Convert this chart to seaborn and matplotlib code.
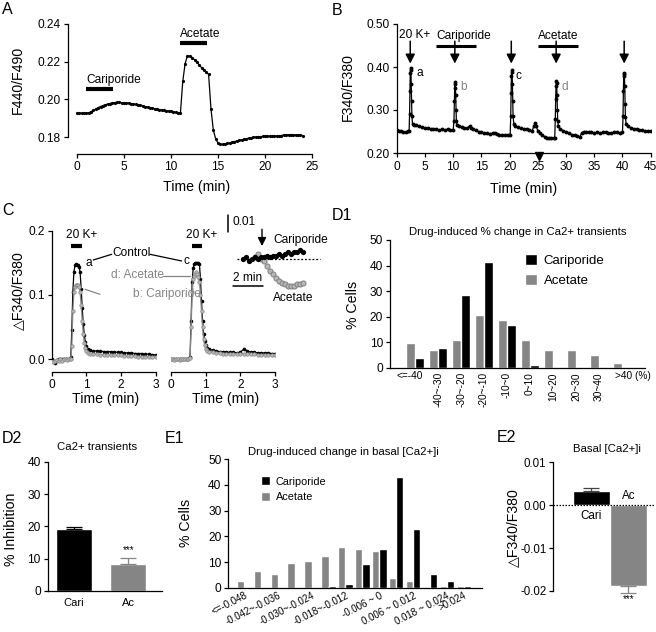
import numpy as np
import pandas as pd
import matplotlib
matplotlib.use('Agg')
import matplotlib.pyplot as plt
import seaborn as sns
from matplotlib.patches import Patch
from matplotlib.lines import Line2D
import matplotlib.transforms as mtrans

# ---------------- data ----------------
# Panel A: F440/F490 trace (sampled every 0.25 min)
A_time = np.arange(0, 24.01, 0.25)
A_ratio = [0.1928, 0.1927, 0.1926, 0.1926, 0.1927, 0.1929, 0.1935, 0.1942, 0.1949, 0.1956, 0.1962,
           0.1967, 0.1971, 0.1975, 0.1978, 0.1981, 0.1983, 0.1984, 0.1984, 0.1983, 0.1982,
           0.1981, 0.1979, 0.1977, 0.1975, 0.1973, 0.1970, 0.1968, 0.1965, 0.1962, 0.1959, 0.1956, 0.1953,
           0.1951, 0.1948, 0.1946, 0.1944, 0.1942, 0.1940, 0.1938, 0.1936, 0.1934, 0.1932, 0.1930, 0.1927,
           0.2095, 0.2190, 0.2232, 0.2230, 0.2222, 0.2210, 0.2197, 0.2183, 0.2168, 0.2155, 0.2143, 0.2132,
           0.1950, 0.1838, 0.1790, 0.1768, 0.1762, 0.1761, 0.1763, 0.1766, 0.1769, 0.1773, 0.1776, 0.1779,
           0.1782, 0.1785, 0.1788, 0.1791, 0.1794, 0.1796, 0.1798, 0.1800, 0.1801, 0.1802, 0.1803, 0.1804,
           0.1804, 0.1805, 0.1805, 0.1806, 0.1806, 0.1806, 0.1808, 0.1812, 0.1813, 0.1812, 0.1812, 0.1812,
           0.1811, 0.1811, 0.1810, 0.1808]
A_ticks_x = [0, 5, 10, 15, 20, 25]
A_ticks_y = [0.18, 0.20, 0.22, 0.24]

# Panel B: F340/F380 trace
B_time = [0, 0.4, 0.8, 1.2, 1.6, 2.0, 2.2,
          2.28, 2.34, 2.40, 2.46, 2.52, 2.58, 2.64, 2.70, 2.80,
          3.0, 3.5, 4.0, 4.5, 5.0, 5.5, 6.0, 6.5, 7.0, 7.5, 8.0, 8.5, 9.0, 9.5, 10.0,
          10.15, 10.21, 10.27, 10.33, 10.39, 10.45, 10.51, 10.57, 10.7,
          11.0, 11.5, 12.0, 12.5, 12.9, 13.2, 13.6, 14.0, 14.5, 15.0, 15.5, 16.0, 16.5, 17.0, 17.4, 17.8,
          18.2, 18.7, 19.2, 19.7, 20.1,
          20.2, 20.26, 20.32, 20.38, 20.44, 20.50, 20.56, 20.62, 20.75,
          21.0, 21.5, 22.0, 22.5, 23.0, 23.5, 24.0, 24.3, 24.5, 24.7, 25.0, 25.4, 25.8, 26.2, 26.6, 27.0,
          27.4, 27.8, 28.0,
          28.1, 28.16, 28.22, 28.28, 28.34, 28.40, 28.46, 28.52, 28.65,
          29.0, 29.5, 30.0, 30.5, 31.0, 31.5, 32.0, 32.4, 32.8, 33.2, 33.6, 34.0, 34.5, 35.0, 35.5, 36.0,
          36.5, 37.0, 37.5, 38.0, 38.5, 39.0, 39.5, 40.0,
          40.1, 40.16, 40.22, 40.28, 40.34, 40.40, 40.46, 40.52, 40.65,
          41.0, 41.5, 42.0, 42.5, 43.0, 43.5, 44.0, 44.5, 45.0]
B_ratio = [0.253, 0.252, 0.252, 0.249, 0.248, 0.251, 0.252,
           0.290, 0.345, 0.385, 0.398, 0.392, 0.360, 0.320, 0.285, 0.268,
           0.266, 0.264, 0.262, 0.260, 0.258, 0.257, 0.256, 0.255, 0.255, 0.254, 0.255, 0.254, 0.255, 0.254, 0.253,
           0.275, 0.320, 0.352, 0.366, 0.360, 0.335, 0.300, 0.275, 0.265,
           0.262, 0.260, 0.259, 0.257, 0.263, 0.258, 0.256, 0.253, 0.250, 0.248, 0.247, 0.246, 0.245, 0.246,
           0.247, 0.244, 0.243, 0.242, 0.242, 0.241, 0.242,
           0.285, 0.340, 0.380, 0.392, 0.388, 0.360, 0.320, 0.285, 0.268,
           0.263, 0.260, 0.258, 0.256, 0.255, 0.253, 0.252, 0.262, 0.270, 0.262, 0.252, 0.246, 0.241, 0.238,
           0.236, 0.235, 0.234, 0.234, 0.236,
           0.280, 0.325, 0.355, 0.368, 0.362, 0.335, 0.300, 0.275, 0.262,
           0.256, 0.252, 0.249, 0.246, 0.243, 0.241, 0.239, 0.237, 0.247, 0.250, 0.249, 0.248, 0.248, 0.247,
           0.248, 0.247, 0.248, 0.248, 0.247, 0.247, 0.248, 0.248, 0.247, 0.248,
           0.285, 0.345, 0.378, 0.387, 0.383, 0.355, 0.315, 0.283, 0.268,
           0.262, 0.258, 0.256, 0.255, 0.254, 0.253, 0.252, 0.252, 0.251]
B_peak_times = [2.4, 10.3, 20.3, 28.25, 40.3]
B_ticks_x = [0, 5, 10, 15, 20, 25, 30, 35, 40, 45]
B_ticks_y = [0.20, 0.30, 0.40, 0.50]

# Panel C: normalised transients
C_time = [0.0, 0.05, 0.1, 0.15, 0.2, 0.25, 0.3, 0.35, 0.4, 0.45, 0.5, 0.55,
          0.58, 0.61, 0.64, 0.67, 0.70, 0.73, 0.76, 0.79, 0.82, 0.85, 0.88, 0.91, 0.94, 0.97, 1.0,
          1.05, 1.1, 1.2, 1.3, 1.4, 1.5, 1.6, 1.7, 1.8, 1.9, 2.0, 2.1, 2.2, 2.3, 2.4, 2.5, 2.6, 2.7, 2.8, 2.9, 3.0]
C_control_a = [0.000, -0.002, -0.005, -0.001, 0.001, 0.000, 0.001, 0.000, 0.001, 0.000, 0.001, 0.003,
               0.045, 0.105, 0.135, 0.146, 0.148, 0.147, 0.146, 0.144, 0.135, 0.110, 0.080, 0.055, 0.038, 0.027, 0.020,
               0.016, 0.014, 0.013, 0.013, 0.013, 0.012, 0.012, 0.012, 0.011, 0.011, 0.011, 0.010, 0.010, 0.010,
               0.009, 0.009, 0.009, 0.008, 0.008, 0.007, 0.007]
C_cariporide_b = [-0.002, -0.004, -0.003, -0.001, -0.003, 0.000, -0.002, 0.000, 0.000, -0.001, 0.000, 0.001,
                  0.020, 0.075, 0.105, 0.112, 0.115, 0.116, 0.115, 0.113, 0.105, 0.085, 0.060, 0.040, 0.025, 0.018, 0.013,
                  0.010, 0.009, 0.008, 0.008, 0.007, 0.007, 0.007, 0.006, 0.006, 0.006, 0.006, 0.005, 0.005, 0.005,
                  0.005, 0.004, 0.004, 0.004, 0.004, 0.004, 0.004]
C_control_c = [0.001, 0.000, 0.000, 0.001, 0.000, 0.000, 0.000, 0.001, 0.000, 0.000, 0.001, 0.004,
               0.060, 0.120, 0.142, 0.148, 0.150, 0.150, 0.149, 0.149, 0.148, 0.125, 0.090, 0.060, 0.040, 0.028, 0.022,
               0.018, 0.016, 0.014, 0.013, 0.012, 0.012, 0.011, 0.011, 0.011, 0.010, 0.011, 0.016, 0.013, 0.011,
               0.011, 0.010, 0.010, 0.010, 0.010, 0.009, 0.009]
C_acetate_d = [0.000, 0.000, -0.001, 0.000, 0.000, -0.001, 0.000, 0.000, 0.000, 0.000, 0.000, 0.002,
               0.050, 0.105, 0.125, 0.130, 0.133, 0.135, 0.133, 0.128, 0.120, 0.100, 0.075, 0.050, 0.032, 0.022, 0.016,
               0.013, 0.012, 0.011, 0.010, 0.010, 0.009, 0.009, 0.009, 0.009, 0.008, 0.008, 0.009, 0.008, 0.008,
               0.008, 0.007, 0.007, 0.007, 0.007, 0.007, 0.007]
C_ticks_x = [0, 1, 2, 3]
C_ticks_y = [0.0, 0.1, 0.2]

# Panel C inset: basal changes
inset_cari_time = np.arange(0, 4.01, 0.2)
inset_cari = [0.000, 0.001, -0.001, 0.000, 0.001, 0.000, 0.001, 0.001, 0.002, 0.001, 0.002,
              0.002, 0.003, 0.002, 0.003, 0.004, 0.003, 0.004, 0.004, 0.005, 0.004]
inset_acet_time = np.arange(0.8, 4.01, 0.2)
inset_acet = [0.001, 0.003, 0.000, -0.001, -0.004, -0.007, -0.009, -0.011, -0.013, -0.014,
              -0.015, -0.016, -0.016, -0.016, -0.015, -0.015, -0.014]

# Panel D1: histogram of % change in Ca2+ transients
D1_bins = ["<=-40", "-40~-30", "-30~-20", "-20~-10", "-10~0", "0~10", "10~20", "20~30", "30~40", ">40 (%)"]
D1_cariporide = [3.8, 7.8, 28.7, 41.5, 16.9, 1.3, 0, 0, 0, 0]
D1_acetate = [9.8, 7.2, 11.0, 20.8, 18.8, 11.0, 7.1, 7.1, 5.2, 1.9]

# Panel D2: % inhibition
D2_groups = ["Cari", "Ac"]
D2_mean = [19.2, 8.3]
D2_sem = [0.7, 1.9]

# Panel E1: histogram of change in basal [Ca2+]i
E1_bins = ["<=-0.048", "-0.048~-0.042", "-0.042~-0.036", "-0.036~-0.030", "-0.030~-0.024",
           "-0.024~-0.018", "-0.018~-0.012", "-0.012~-0.006", "-0.006 ~ 0", "0 ~ 0.006",
           "0.006 ~ 0.012", "0.012 ~ 0.018", "0.018 ~ 0.024", ">0.024"]
E1_shown = [0, 2, 4, 6, 8, 10, 12, 13]
E1_cariporide = [0, 0, 0, 0, 0, 0.6, 1.3, 9.1, 15.1, 43.0, 22.9, 5.2, 2.6, 0.5]
E1_acetate = [2.6, 6.5, 5.2, 9.7, 10.4, 12.3, 15.7, 14.9, 14.4, 3.9, 2.6, 0, 0.5, 0.5]

# Panel E2: basal change
E2_groups = ["Cari", "Ac"]
E2_mean = [0.0033, -0.0189]
E2_sem = [0.0007, 0.0015]
E2_ticks_y = [-0.02, -0.01, 0.00, 0.01]

BLACK = '#000000'
GRAY = '#858585'
LIGHT = '#b8b8b8'

# ---------------- style ----------------
sns.set_style('ticks')
plt.rcParams['font.family'] = ['Liberation Sans', 'DejaVu Sans']
plt.rcParams.update({
    'axes.linewidth': 0.9, 'xtick.major.width': 0.9, 'ytick.major.width': 0.9,
    'xtick.major.size': 3, 'ytick.major.size': 3,
    'xtick.labelsize': 8.6, 'ytick.labelsize': 8.6, 'axes.labelsize': 10.2,
    'xtick.major.pad': 2, 'ytick.major.pad': 2,
    'xtick.color': 'black', 'ytick.color': 'black', 'axes.edgecolor': 'black',
    'text.color': 'black', 'axes.labelcolor': 'black',
})

W, H = 656, 632
fig = plt.figure(figsize=(W / 100, H / 100), dpi=100)


def px_axes(l, t, r, b):
    return fig.add_axes([l / W, 1 - b / H, (r - l) / W, (b - t) / H])


def to_ax(ax, x, y):
    p = ax.get_position()
    return ((x / W - p.x0) / p.width, ((1 - y / H) - p.y0) / p.height)


def ylab(ax, text, x, y):
    ax.set_ylabel(text)
    ax.yaxis.set_label_coords(*to_ax(ax, x, y))


def xlab(ax, text, x, y):
    ax.set_xlabel(text)
    ax.xaxis.set_label_coords(*to_ax(ax, x, y))


def ftext(x, y, s, **kw):
    fig.text(x / W, 1 - y / H, s, **kw)


def fline(x1, y1, x2, y2, color='black', lw=0.9):
    fig.add_artist(Line2D([x1 / W, x2 / W], [1 - y1 / H, 1 - y2 / H], transform=fig.transFigure,
                          color=color, lw=lw))


def clean(ax):
    sns.despine(ax=ax)


# ---------------- Panel A ----------------
axA = px_axes(68, 24, 312, 154)
sns.lineplot(x=A_time, y=A_ratio, ax=axA, color=BLACK, marker='o', markersize=2.3,
             markeredgecolor=BLACK, markeredgewidth=0, linewidth=0.9, estimator=None)
axA.set_xlim(-0.96, 25)
axA.set_ylim(0.171, 0.24)
clean(axA)
axA.spines['left'].set_bounds(0.18, 0.24)
axA.spines['bottom'].set_bounds(0, 25)
axA.set_xticks(A_ticks_x)
axA.set_yticks(A_ticks_y)
axA.set_yticklabels([f"{v:.2f}" for v in A_ticks_y])
xlab(axA, "Time (min)", 196.7, 180)
ylab(axA, "F440/F490", 25, 80)
axA.plot([1.0, 3.8], [0.2055, 0.2055], color=BLACK, lw=3, solid_capstyle='butt')
axA.text(0.95, 0.2072, "Cariporide", fontsize=8.6, ha='left', va='bottom')
axA.plot([11.0, 13.8], [0.2297, 0.2297], color=BLACK, lw=3, solid_capstyle='butt')
axA.text(11.0, 0.2314, "Acetate", fontsize=8.6, ha='left', va='bottom')

# ---------------- Panel B ----------------
axB = px_axes(396.7, 24, 650.7, 153)
sns.lineplot(x=B_time, y=B_ratio, ax=axB, color=BLACK, marker='o', markersize=2.8,
             markeredgecolor=BLACK, markeredgewidth=0, linewidth=0.9, estimator=None)
axB.set_xlim(0, 45)
axB.set_ylim(0.2, 0.5)
clean(axB)
axB.set_xticks(B_ticks_x)
axB.set_yticks(B_ticks_y)
axB.set_yticklabels([f"{v:.2f}" for v in B_ticks_y])
axB.tick_params(axis='x', pad=3)
xlab(axB, "Time (min)", 523.3, 181.7)
ylab(axB, "F340/F380", 355, 86.7)
for tp in B_peak_times:
    axB.annotate('', xy=(tp, 0.408), xytext=(tp, 0.460),
                 arrowprops=dict(arrowstyle='-|>,head_length=0.55,head_width=0.28', color=BLACK, lw=1.1,
                                 shrinkA=0, shrinkB=0))
axB.text(3.2, 0.474, "20 K+", fontsize=8.6, ha='center', va='center')
axB.text(3.5, 0.386, "a", fontsize=8.6, ha='left', va='center', color=BLACK)
axB.text(11.2, 0.353, "b", fontsize=8.6, ha='left', va='center', color=GRAY)
axB.text(21.1, 0.379, "c", fontsize=8.6, ha='left', va='center', color=BLACK)
axB.text(29.2, 0.353, "d", fontsize=8.6, ha='left', va='center', color=GRAY)
axB.plot([7.05, 14.1], [0.4495, 0.4495], color=BLACK, lw=2.2, solid_capstyle='butt')
axB.text(7.05, 0.458, "Cariporide", fontsize=8.6, ha='left', va='bottom')
axB.plot([25.0, 32.2], [0.4495, 0.4495], color=BLACK, lw=2.2, solid_capstyle='butt')
axB.text(25.0, 0.458, "Acetate", fontsize=8.6, ha='left', va='bottom')
axB.plot([25.2], [0.1935], marker='v', color=BLACK, markersize=6, clip_on=False, zorder=6)

# ---------------- Panel C ----------------
axC1 = px_axes(51.7, 230.7, 155.7, 371.7)
axC2 = px_axes(171, 230.7, 275, 371.7)
for ax, ctrl, drug in [(axC1, C_control_a, C_cariporide_b), (axC2, C_control_c, C_acetate_d)]:
    sns.lineplot(x=C_time, y=ctrl, ax=ax, color=BLACK, marker='o', markersize=2.6,
                 markeredgecolor=BLACK, markeredgewidth=0, linewidth=0.9, estimator=None)
    sns.lineplot(x=C_time, y=drug, ax=ax, color=GRAY, marker='o', markersize=2.5,
                 markerfacecolor=LIGHT, markeredgecolor=GRAY, markeredgewidth=0.5, linewidth=0.9,
                 estimator=None)
    ax.set_xlim(0, 3)
    ax.set_ylim(-0.0193, 0.2)
    clean(ax)
    ax.spines['bottom'].set_bounds(0, 3)
    ax.set_xticks(C_ticks_x)
axC1.spines['left'].set_bounds(0, 0.2)
axC1.set_yticks(C_ticks_y)
axC1.set_yticklabels([f"{v:.1f}" for v in C_ticks_y])
axC2.spines['left'].set_visible(False)
axC2.set_yticks([])
axC2.set_ylabel('')
xlab(axC1, "Time (min)", 105.8, 392)
xlab(axC2, "Time (min)", 225.8, 392)
ylab(axC1, "△F340/F380", 25, 291)
axC1.plot([0.556, 0.864], [0.176, 0.176], color=BLACK, lw=3, solid_capstyle='butt')
axC1.text(0.865, 0.193, "20 K+", fontsize=8.6, ha='center', va='center')
axC2.plot([0.6, 0.88], [0.176, 0.176], color=BLACK, lw=3, solid_capstyle='butt')
axC2.text(0.88, 0.193, "20 K+", fontsize=8.6, ha='center', va='center')

ftext(89.3, 263.3, "a", fontsize=8.6, ha='center', va='center')
fline(93.3, 260, 111.7, 254.3)
ftext(131.7, 253.3, "Control", fontsize=8.6, ha='center', va='center')
fline(150, 254.3, 181.7, 261)
ftext(186.7, 261, "c", fontsize=8.6, ha='center', va='center')
ftext(137.8, 275, "d: Acetate", fontsize=8.6, ha='center', va='center', color=GRAY)
fline(163.3, 275.7, 190, 275.7, color=GRAY)
ftext(166.7, 294.3, "b: Cariporide", fontsize=8.6, ha='center', va='center', color=GRAY)
fline(85, 289.3, 100, 294.3, color=GRAY)

# inset
axI = px_axes(224, 208, 326, 305)
sns.lineplot(x=inset_acet_time, y=inset_acet, ax=axI, color=GRAY, marker='o', markersize=3.6,
             markerfacecolor=LIGHT, markeredgecolor=GRAY, markeredgewidth=0.8, linewidth=0,
             estimator=None)
sns.lineplot(x=inset_cari_time, y=inset_cari, ax=axI, color=BLACK, marker='o', markersize=3.8,
             markeredgecolor=BLACK, markeredgewidth=0, linewidth=1.5, estimator=None)
axI.set_xlim(-1.267, 5.533)
axI.set_ylim(-0.02706, 0.03)
axI.axis('off')
axI.axhline(0, xmin=0.127, xmax=0.941, color=BLACK, lw=0.9, ls=(0, (1.5, 1.5)), zorder=0)
axI.plot([-1.0, -1.0], [0.0159, 0.0259], color=BLACK, lw=1.1)
axI.text(-0.73, 0.0218, "0.01", fontsize=8.6, ha='left', va='center')
axI.plot([-0.667, 1.333], [-0.0159, -0.0159], color=BLACK, lw=1.1)
axI.text(0.333, -0.0112, "2 min", fontsize=8.6, ha='center', va='center')
axI.annotate('', xy=(1.267, 0.0076), xytext=(1.267, 0.0175),
             arrowprops=dict(arrowstyle='-|>,head_length=0.5,head_width=0.25', color=BLACK, lw=1.0,
                             shrinkA=0, shrinkB=0))
axI.text(2.0, 0.0109, "Cariporide", fontsize=8.6, ha='left', va='center')
axI.text(2.0, -0.0229, "Acetate", fontsize=8.6, ha='left', va='center')

# ---------------- Panel D1 ----------------
axD1 = px_axes(390, 240, 645, 368)
dfD1 = pd.DataFrame({
    'bin': D1_bins * 2,
    'drug': ['Acetate'] * len(D1_bins) + ['Cariporide'] * len(D1_bins),
    'pct': D1_acetate + D1_cariporide,
})
sns.barplot(data=dfD1, x='bin', y='pct', hue='drug', order=D1_bins, hue_order=['Acetate', 'Cariporide'],
            palette={'Acetate': GRAY, 'Cariporide': BLACK}, width=0.78, errorbar=None, legend=False,
            ax=axD1, saturation=1)
axD1.set_xlim(-1.09, 10.0)
axD1.set_ylim(0, 50)
clean(axD1)
axD1.set_yticks([0, 10, 20, 30, 40, 50])
axD1.set_xlabel('')
ylab(axD1, "% Cells", 360, 305)
axD1.tick_params(axis='x', length=0, pad=3)
axD1.set_xticks(range(len(D1_bins)))
middle = [b if 0 < i < len(D1_bins) - 1 else '' for i, b in enumerate(D1_bins)]
axD1.set_xticklabels(middle, fontsize=7.3, rotation=90)
edge_tr = mtrans.blended_transform_factory(axD1.transData, axD1.transAxes)
axD1.text(-0.22, -0.02, D1_bins[0], transform=edge_tr, fontsize=7.3, ha='center', va='top')
axD1.text(9.48, -0.02, D1_bins[-1], transform=edge_tr, fontsize=7.3, ha='center', va='top')
axD1.text(0.502, 1.0625, "Drug-induced % change in Ca2+ transients", transform=axD1.transAxes,
          fontsize=8.2, ha='center', va='center')
axD1.legend(handles=[Patch(facecolor=BLACK, label='Cariporide'), Patch(facecolor=GRAY, label='Acetate')],
            loc='upper left', bbox_to_anchor=(0.51, 0.93), frameon=False, fontsize=9.5,
            handlelength=0.9, handleheight=0.9, handletextpad=0.5, labelspacing=0.5, borderaxespad=0)

# ---------------- Panel D2 ----------------
axD2 = px_axes(47.7, 462, 161.7, 590.7)
sns.barplot(x=D2_groups, y=D2_mean, hue=D2_groups, palette=[BLACK, GRAY], width=0.675, errorbar=None,
            legend=False, ax=axD2, saturation=1)
axD2.errorbar([0], [D2_mean[0]], yerr=[[0], [D2_sem[0]]], fmt='none', ecolor=BLACK, elinewidth=0.9,
              capsize=6, capthick=0.9)
axD2.errorbar([1], [D2_mean[1]], yerr=[[0], [D2_sem[1]]], fmt='none', ecolor=GRAY, elinewidth=0.9,
              capsize=6, capthick=0.9)
axD2.set_xlim(-0.49, 1.62)
axD2.set_ylim(0, 40)
clean(axD2)
axD2.set_yticks([0, 10, 20, 30, 40])
axD2.tick_params(axis='x', length=0, pad=5, labelsize=8)
ylab(axD2, "% Inhibition", 18.3, 529)
axD2.text(1, D2_mean[1] + D2_sem[1] + 0.8, "***", fontsize=7, ha='center', va='bottom')
axD2.text(0.43, 1.117, "Ca2+ transients", transform=axD2.transAxes, fontsize=8.2, ha='center', va='center')

# ---------------- Panel E1 ----------------
axE1 = px_axes(228.3, 459.3, 481.7, 587.7)
dfE1 = pd.DataFrame({
    'bin': E1_bins * 2,
    'drug': ['Acetate'] * len(E1_bins) + ['Cariporide'] * len(E1_bins),
    'pct': E1_acetate + E1_cariporide,
})
sns.barplot(data=dfE1, x='bin', y='pct', hue='drug', order=E1_bins, hue_order=['Acetate', 'Cariporide'],
            palette={'Acetate': GRAY, 'Cariporide': BLACK}, width=0.86, errorbar=None, legend=False,
            ax=axE1, saturation=1)
axE1.set_xlim(-0.93, 14.06)
axE1.set_ylim(0, 50)
clean(axE1)
axE1.set_yticks([0, 10, 20, 30, 40, 50])
axE1.set_xlabel('')
ylab(axE1, "% Cells", 193, 522.7)
axE1.tick_params(axis='x', length=0, pad=2)
axE1.set_xticks(E1_shown)
axE1.set_xticklabels([E1_bins[i] for i in E1_shown], fontsize=7, rotation=27, ha='right', va='top',
                     rotation_mode='anchor')
axE1.text(0.453, 1.057, "Drug-induced change in basal [Ca2+]i", transform=axE1.transAxes,
          fontsize=8.2, ha='center', va='center')
axE1.legend(handles=[Patch(facecolor=BLACK, label='Cariporide'), Patch(facecolor=GRAY, label='Acetate')],
            loc='upper left', bbox_to_anchor=(0.11, 0.90), frameon=False, fontsize=7.8,
            handlelength=0.9, handleheight=0.9, handletextpad=0.5, labelspacing=0.45, borderaxespad=0)

# ---------------- Panel E2 ----------------
axE2 = px_axes(553.3, 458, 655, 600)
sns.barplot(x=E2_groups, y=E2_mean, hue=E2_groups, palette=[BLACK, GRAY], width=1.0, errorbar=None,
            legend=False, ax=axE2, saturation=1)
axE2.errorbar([0], [E2_mean[0]], yerr=[[0], [E2_sem[0]]], fmt='none', ecolor='#444444', elinewidth=0.9,
              capsize=6, capthick=0.9)
axE2.errorbar([1], [E2_mean[1]], yerr=[[E2_sem[1]], [0]], fmt='none', ecolor=GRAY, elinewidth=0.9,
              capsize=6, capthick=0.9)
axE2.set_xlim(-1.03, 1.72)
axE2.set_ylim(-0.0221, 0.011)
sns.despine(ax=axE2, bottom=True)
axE2.spines['left'].set_bounds(-0.02, 0.01)
axE2.set_xticks([])
axE2.set_yticks(E2_ticks_y)
axE2.set_yticklabels([f"{v:.2f}" for v in E2_ticks_y])
axE2.tick_params(axis='y', labelsize=8.3)
axE2.axhline(0, color=BLACK, lw=0.9, ls=(0, (1.2, 1.2)), zorder=5)
ylab(axE2, "△F340/F380", 520, 528)
axE2.text(0, -0.0025, "Cari", fontsize=8.4, ha='center', va='center')
axE2.text(1, 0.0021, "Ac", fontsize=8.4, ha='center', va='center')
axE2.text(1, E2_mean[1] - E2_sem[1] - 0.0003, "***", fontsize=7, ha='center', va='top')
axE2.text(0.525, 1.066, "Basal [Ca2+]i", transform=axE2.transAxes, fontsize=8.2, ha='center', va='center')

# ---------------- panel letters ----------------
for lbl, x, y in [("A", 2, 2), ("B", 332, 3), ("C", 2, 203), ("D1", 332, 208),
                  ("D2", 2, 431), ("E1", 165, 431), ("E2", 497, 430)]:
    ftext(x, y, lbl, fontsize=11.5, ha='left', va='top')

fig.savefig('out.png', dpi=100)
